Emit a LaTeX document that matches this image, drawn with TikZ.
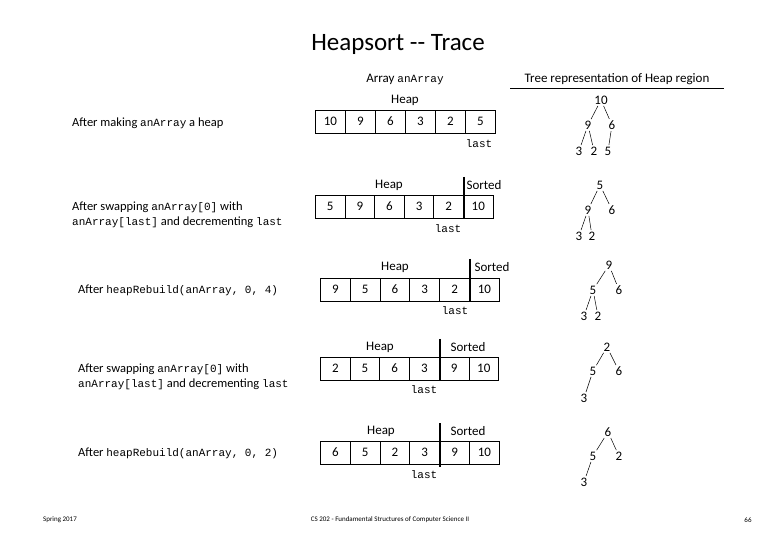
\documentclass[tikz,border=0pt]{standalone}
\usepackage{fontspec}
\setmainfont{Carlito}
\setmonofont{Liberation Mono}
\newcommand{\mt}[1]{{\fontsize{11}{12}\selectfont\texttt{#1}}}
\begin{document}
\begin{tikzpicture}[x=1pt,y=-1pt,
  cell/.style={draw,line width=0.9pt,minimum width=#1,minimum height=23pt,inner sep=0pt,anchor=west,font=\fontsize{13}{14}\selectfont},
  lbl/.style={font=\fontsize{13}{14}\selectfont,inner sep=0pt},
  captxt/.style={font=\fontsize{12.5}{15}\selectfont,inner sep=0pt,anchor=west,align=left},
  tn/.style={font=\fontsize{13}{14}\selectfont,inner sep=1pt},
  te/.style={shorten >=0.5pt,shorten <=0.5pt,line width=0.5pt},
  div/.style={line width=2.2pt}]
\useasboundingbox (0,0) rectangle (780,540);
\node[font=\fontsize{25}{30}\selectfont] (title) at (398,44) {Heapsort -{}- Trace};
\node[lbl] (arr) at (405,79) {Array \mt{anArray}};
\node[lbl] (trt) at (617,79) {Tree representation of Heap region};
\draw (510,88) -- (724,88);
\newcommand{\arow}[5]{%
  \foreach \v [count=\i] in {#5} {
    \node[cell=#4] (#1c\i) at ({#2+(\i-1)*#4},#3) {\v};
  }}
% Row 1
\arow{a}{315}{121.5}{30}{10,9,6,3,2,5}
\node[lbl] (ah) at (405,100) {Heap};
\node[lbl] (al) at (479,144) {\mt{last}};
\node[captxt] (at) at (72,123) {After making \mt{anArray} a heap};
\node[tn] (t1a) at (601,100) {10}; \node[tn] (t1b) at (588,125) {9}; \node[tn] (t1c) at (612,125) {6};
\node[tn] (t1d) at (579,151) {3}; \node[tn] (t1e) at (594,151) {2}; \node[tn] (t1f) at (608,151) {5};
\draw[te] (t1a)--(t1b); \draw[te] (t1a)--(t1c); \draw[te] (t1b)--(t1d); \draw[te] (t1b)--(t1e); \draw[te] (t1c)--(t1f);
% Row 2
\arow{b}{315}{206.5}{29.6}{5,9,6,3,2,10}
\coordinate (bd) at (bc5.south east |- 0,177); \draw[div] (bd) -- (bc5.south east);
\node[lbl] (bh) at (389,185) {Heap}; \node[lbl] (bs) at (484,185) {Sorted};
\node[lbl] (bl) at (448,229) {\mt{last}};
\node[captxt] (bt) at (72,214.5) {After swapping \mt{anArray[0]} with\\\mt{anArray[last]} and decrementing \mt{last}};
\node[tn] (t2a) at (600,185) {5}; \node[tn] (t2b) at (588,210) {9}; \node[tn] (t2c) at (612,210) {6};
\node[tn] (t2d) at (579,236) {3}; \node[tn] (t2e) at (592,236) {2};
\draw[te] (t2a)--(t2b); \draw[te] (t2a)--(t2c); \draw[te] (t2b)--(t2d); \draw[te] (t2b)--(t2e);
% Row 3
\arow{c}{320}{289.5}{29.8}{9,5,6,3,2,10}
\coordinate (cd) at (cc5.south east |- 0,259); \draw[div] (cd) -- (cc5.south east);
\node[lbl] (ch) at (395,267) {Heap}; \node[lbl] (cs) at (492,267) {Sorted};
\node[lbl] (cl) at (455,311) {\mt{last}};
\node[captxt] (ct) at (78,290) {After \mt{heapRebuild(anArray, 0, 4)}};
\node[tn] (t3a) at (609,265) {9}; \node[tn] (t3b) at (593,290) {5}; \node[tn] (t3c) at (619,290) {6};
\node[tn] (t3d) at (584,316) {3}; \node[tn] (t3e) at (598,316) {2};
\draw[te] (t3a)--(t3b); \draw[te] (t3a)--(t3c); \draw[te] (t3b)--(t3d); \draw[te] (t3b)--(t3e);
% Row 4
\arow{d}{320}{368.5}{29.7}{2,5,6,3,9,10}
\coordinate (dd) at (dc4.south east |- 0,339); \draw[div] (dd) -- (dc4.south east);
\node[lbl] (dh) at (380,347) {Heap}; \node[lbl] (ds) at (468,347) {Sorted};
\node[lbl] (dl) at (424,390) {\mt{last}};
\node[captxt] (dt) at (78,376.5) {After swapping \mt{anArray[0]} with\\\mt{anArray[last]} and decrementing \mt{last}};
\node[tn] (t4a) at (607,347) {2}; \node[tn] (t4b) at (593,371) {5}; \node[tn] (t4c) at (619,371) {6};
\node[tn] (t4d) at (584,398) {3};
\draw[te] (t4a)--(t4b); \draw[te] (t4a)--(t4c); \draw[te] (t4b)--(t4d);
% Row 5
\arow{e}{320}{452.5}{29.8}{6,5,2,3,9,10}
\coordinate (ed) at (ec4.south east |- 0,423); \coordinate (ee) at (ec4.south east |- 0,467); \draw[div] (ed) -- (ee);
\node[lbl] (eh) at (381,431) {Heap}; \node[lbl] (es) at (468,431) {Sorted};
\node[lbl] (el) at (424,475) {\mt{last}};
\node[captxt] (et) at (78,453) {After \mt{heapRebuild(anArray, 0, 2)}};
\node[tn] (t5a) at (608,432) {6}; \node[tn] (t5b) at (593,456) {5}; \node[tn] (t5c) at (619,456) {2};
\node[tn] (t5d) at (584,482) {3};
\draw[te] (t5a)--(t5b); \draw[te] (t5a)--(t5c); \draw[te] (t5b)--(t5d);
% footer
\node[font=\fontsize{7}{8}\selectfont] (f1) at (60,520) {Spring 2017};
\node[font=\fontsize{7}{8}\selectfont] (f2) at (390,520) {CS 202 - Fundamental Structures of Computer Science II};
\node[font=\fontsize{7}{8}\selectfont] (f3) at (748,520) {66};
\end{tikzpicture}
\end{document}
